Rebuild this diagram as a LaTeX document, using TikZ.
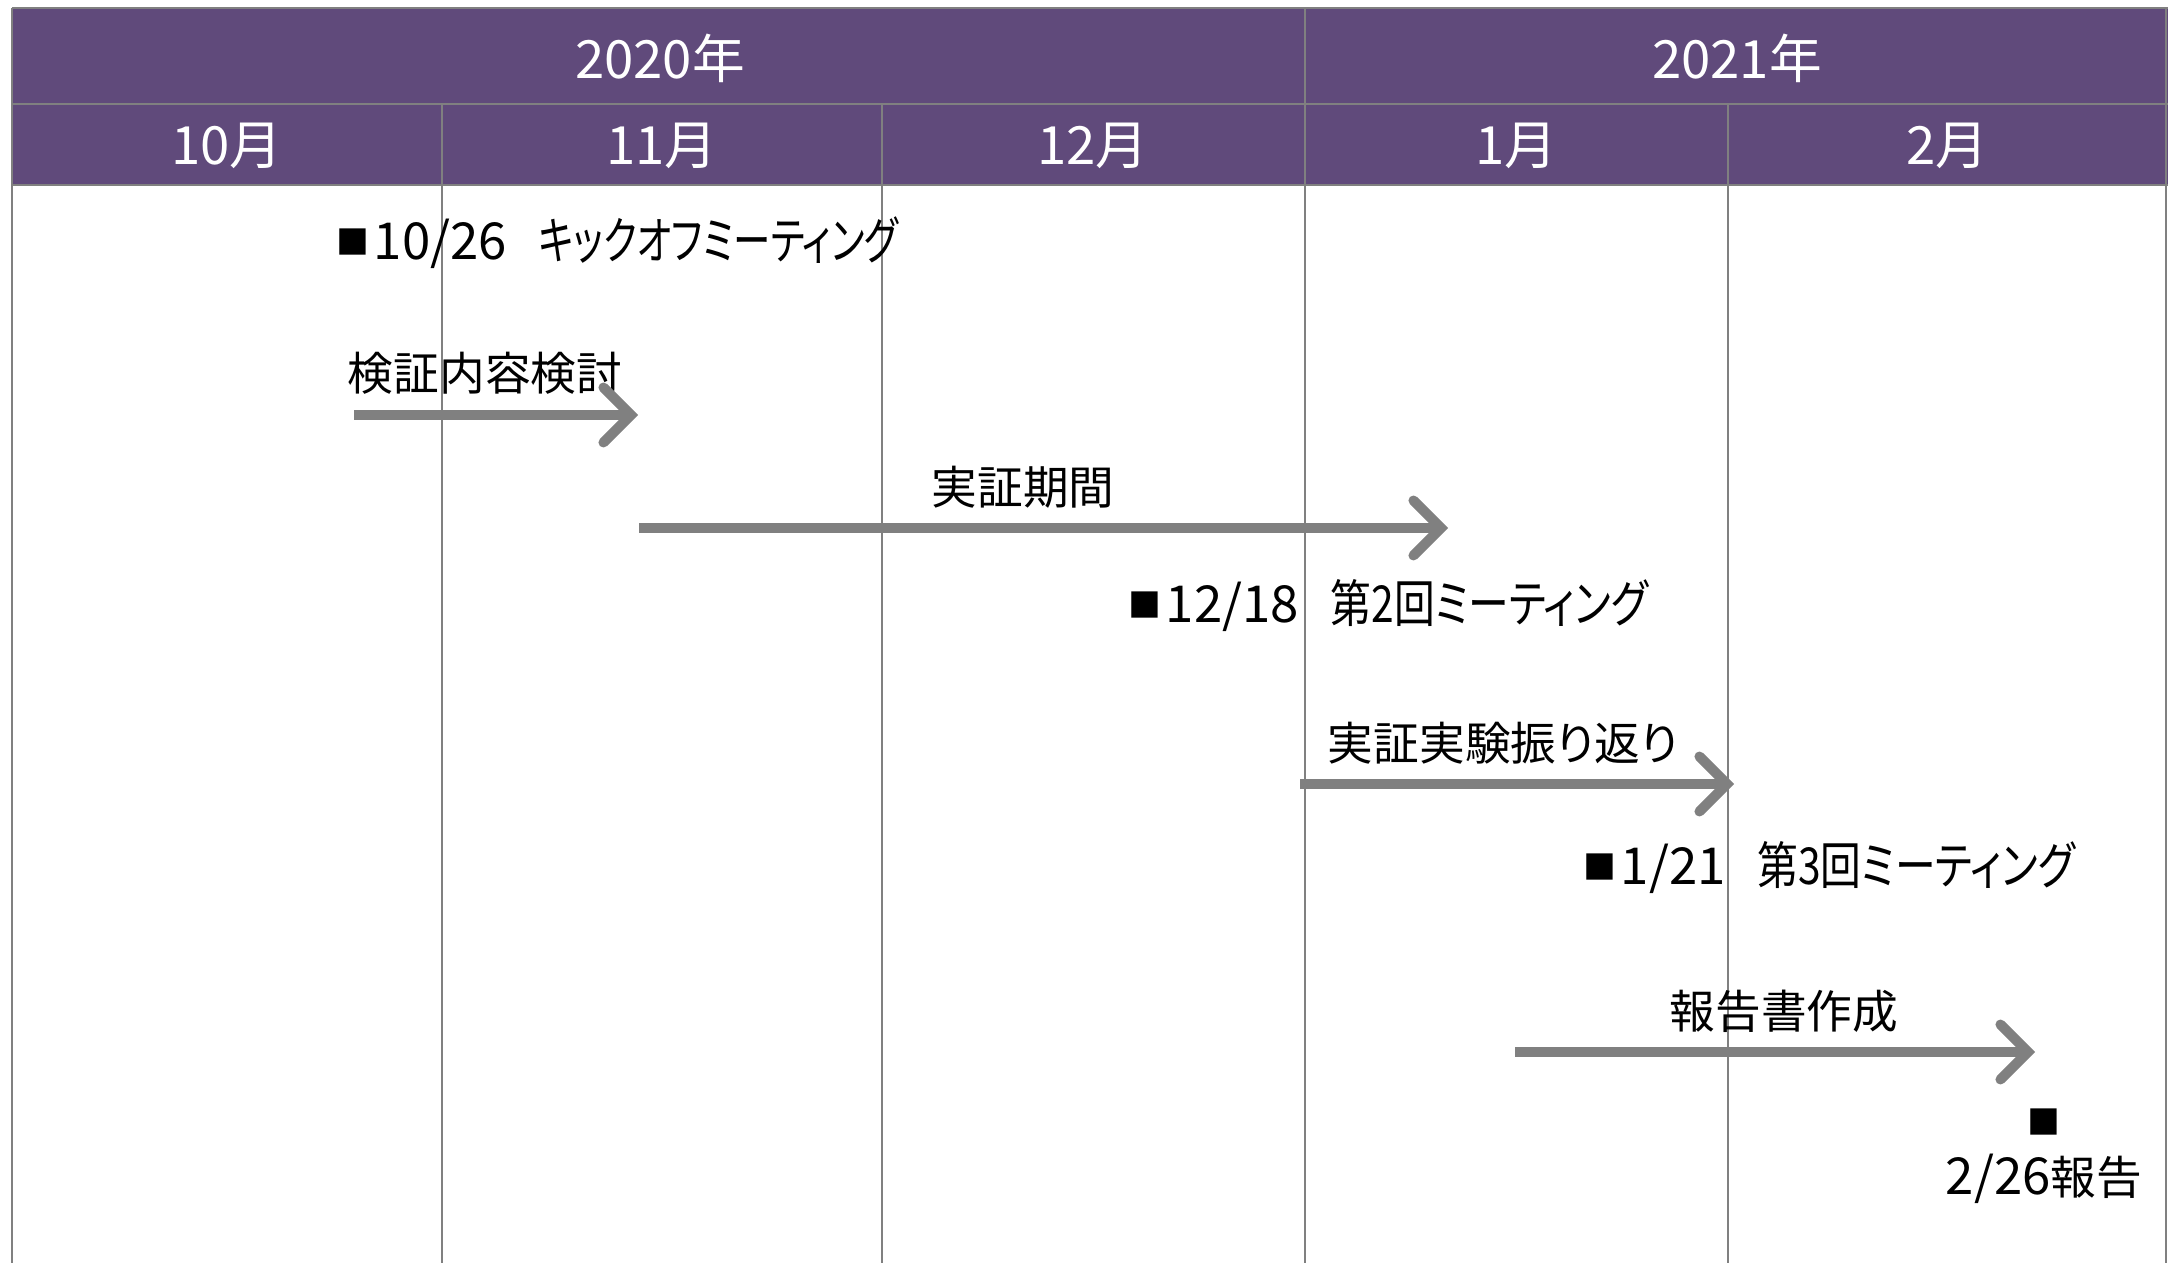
\documentclass[tikz,border=0pt]{standalone}
\usepackage{fontspec}
\setmainfont[RawFeature=+palt]{Noto Sans CJK JP}
\usetikzlibrary{arrows.meta}
\definecolor{hdr}{RGB}{96,74,123}
\definecolor{grd}{RGB}{128,128,128}
\newcommand{\blksq}{\raisebox{0.12em}{\scalebox{0.72}{■}}}
\newcommand{\dte}[1]{{\fontsize{29}{32}\selectfont #1}}
\newcommand{\kana}[2]{{\fontsize{29}{32}\selectfont\scalebox{#1}[1]{#2}}}
\begin{document}
\begin{tikzpicture}[x=0.02cm,y=-0.02cm,
  gridline/.style={draw=grd,line width=0.045cm},
  hdrtext/.style={text=white,font=\fontsize{30}{34}\selectfont,inner sep=0pt},
  evt/.style={text=black,font=\fontsize{26}{30}\selectfont,inner sep=0pt},
  task/.style={draw=grd,line width=0.2cm,-{Straight Barb[length=0.55cm,width=1.1cm,line cap=round]}}]
\useasboundingbox (0,0) rectangle (2168,1263);
\fill[white] (0,0) rectangle (2168,1263);
% header
\fill[hdr] (12,8) rectangle (2168,185);
\draw[gridline] (12,8) -- (2168,8);
\draw[gridline] (12,104) -- (2168,104);
\draw[gridline] (12,185) -- (2168,185);
\draw[gridline] (12,8) -- (12,1263);
\draw[gridline] (1305,8) -- (1305,1263);
\draw[gridline] (442,104) -- (442,1263);
\draw[gridline] (882,104) -- (882,1263);
\draw[gridline] (1728,104) -- (1728,1263);
\draw[gridline] (2166,8) -- (2166,1263);
\node[hdrtext] (y2020) at (660,58) {2020年};
\node[hdrtext] (y2021) at (1737,58) {2021年};
\node[hdrtext] (m10) at (227,146) {10月};
\node[hdrtext] (m11) at (662,146) {11月};
\node[hdrtext] (m12) at (1093,146) {12月};
\node[hdrtext] (m1) at (1516,146) {1月};
\node[hdrtext] (m2) at (1947,146) {2月};
% events
\node[evt,anchor=west] (e1) at (336,243) {\blksq\hspace{0.1em}\dte{10/26}\hspace{0.7em}\kana{0.735}{キックオフミーティング}};
\node[evt] (t1) at (485,373) {検証内容検討};
\coordinate (a1s) at (354,415);
\coordinate (a1e) at (638,415);
\draw[task] (a1s) -- (a1e);
\node[evt] (t2) at (1023,487) {実証期間};
\coordinate (a2s) at (639,528);
\coordinate (a2e) at (1448,528);
\draw[task] (a2s) -- (a2e);
\node[evt,anchor=west] (e2) at (1128,606) {\blksq\hspace{0.1em}\dte{12/18}\hspace{0.7em}\kana{0.8}{第2回ミーティング}};
\node[evt] (t3) at (1503,743) {実証実験振り返り};
\coordinate (a3s) at (1300,784);
\coordinate (a3e) at (1734,784);
\draw[task] (a3s) -- (a3e);
\node[evt,anchor=west] (e3) at (1583,868) {\blksq\hspace{0.1em}\dte{1/21}\hspace{0.7em}\kana{0.8}{第3回ミーティング}};
\node[evt] (t4) at (1784,1011) {報告書作成};
\coordinate (a4s) at (1515,1052);
\coordinate (a4e) at (2035,1052);
\draw[task] (a4s) -- (a4e);
\node[evt] (e4a) at (2044,1124) {\blksq};
\node[evt] (e4b) at (2044,1179) {\dte{2/26}報告};
\end{tikzpicture}
\end{document}
